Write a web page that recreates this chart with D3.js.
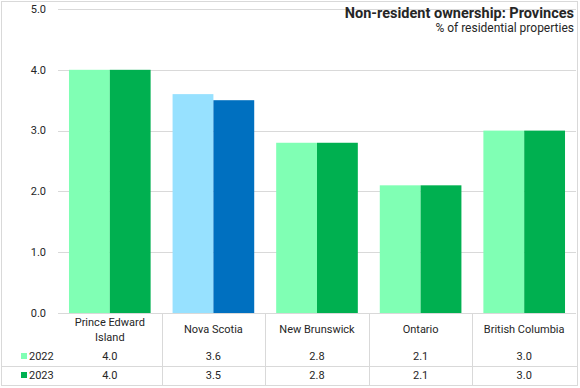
<html>
<head>
<script src="https://cdnjs.cloudflare.com/ajax/libs/d3/7.8.5/d3.min.js"></script>
<style>
	body { margin: 0; background: #fff; }
	text { font-family: Roboto, "Open Sans", sans-serif; fill: #262626; }
</style>
</head>
<body>
<svg width="580" height="388"></svg>
<script>
	var provinces = ["Prince Edward Island", "Nova Scotia", "New Brunswick", "Ontario", "British Columbia"];
	var years = ["2022", "2023"];
	var values2022 = [4.0, 3.6, 2.8, 2.1, 3.0];
	var values2023 = [4.0, 3.5, 2.8, 2.1, 3.0];
	var yTicks = [0, 1, 2, 3, 4, 5];
	var colors = {"2022": "#80FFB4", "2023": "#00B050"};
	var highlight = {"2022": "#97E1FF", "2023": "#0070C0"};
	var highlighted = "Nova Scotia";

	var svg = d3.select("svg");
	var plotLeft = 58, plotRight = 576, plotTop = 9, plotBottom = 313;

	// outer border
	svg.append("rect").attr("x", 1.5).attr("y", 1.5).attr("width", 576).attr("height", 384)
		.attr("fill", "none").attr("stroke", "#d9d9d9");

	var x = d3.scaleBand().domain(provinces).range([plotLeft, plotRight]).paddingInner(0.212).paddingOuter(0.106);
	var xs = d3.scaleBand().domain(years).range([0, x.bandwidth()]);
	var y = d3.scaleLinear().domain([0, 5]).range([plotBottom, plotTop]);

	// gridlines
	svg.append("g").selectAll("line").data(yTicks).enter().append("line")
		.attr("x1", plotLeft).attr("x2", plotRight)
		.attr("y1", function(d){ return Math.round(y(d)) + 0.5; })
		.attr("y2", function(d){ return Math.round(y(d)) + 0.5; })
		.attr("stroke", "#d9d9d9");

	// y labels
	svg.append("g").selectAll("text").data(yTicks).enter().append("text")
		.attr("x", 46).attr("y", function(d){ return y(d); })
		.attr("dy", "0.35em").attr("text-anchor", "end").attr("font-size", 11)
		.text(function(d){ return d.toFixed(1); });

	var rows = provinces.map(function(p, i){
		return {name: p, vals: [{year: "2022", v: values2022[i]}, {year: "2023", v: values2023[i]}]};
	});

	var groups = svg.append("g").selectAll("g").data(rows).enter().append("g")
		.attr("transform", function(d){ return "translate(" + x(d.name) + ",0)"; });
	groups.selectAll("rect").data(function(d){ return d.vals.map(function(v){ return {name: d.name, year: v.year, v: v.v}; }); })
		.enter().append("rect")
		.attr("x", function(d){ return xs(d.year); })
		.attr("width", xs.bandwidth())
		.attr("y", function(d){ return y(d.v); })
		.attr("height", function(d){ return y(0) - y(d.v); })
		.attr("fill", function(d){ return d.name === highlighted ? highlight[d.year] : colors[d.year]; });

	// data table
	var step = x.step();
	var table = svg.append("g");
	var tableBottom = 386, rowLine = 366;
	provinces.forEach(function(p, i){
		var xl = plotLeft + step * (i + 1);
		if (i < provinces.length - 1) {
			table.append("line").attr("x1", Math.round(xl) + 0.5).attr("x2", Math.round(xl) + 0.5)
				.attr("y1", plotBottom).attr("y2", tableBottom).attr("stroke", "#d9d9d9");
		}
	});
	table.append("line").attr("x1", 2).attr("x2", plotRight + 1).attr("y1", rowLine + 0.5).attr("y2", rowLine + 0.5)
		.attr("stroke", "#d9d9d9");

	// category labels
	var labelLines = {"Prince Edward Island": ["Prince Edward", "Island"]};
	provinces.forEach(function(p){
		var cx = x(p) + x.bandwidth() / 2;
		var lines = labelLines[p] || [p];
		var t = table.append("text").attr("x", cx).attr("text-anchor", "middle").attr("font-size", 11);
		if (lines.length === 1) {
			t.attr("y", 329).attr("dy", "0.35em").text(p);
		} else {
			lines.forEach(function(l, j){
				t.append("tspan").attr("x", cx).attr("y", 322 + j * 15).attr("dy", "0.35em").text(l);
			});
		}
	});

	// values
	var rowY = {"2022": 356, "2023": 375};
	[values2022, values2023].forEach(function(vals, k){
		var yr = years[k];
		provinces.forEach(function(p, i){
			table.append("text").attr("x", x(p) + x.bandwidth() / 2).attr("y", rowY[yr]).attr("dy", "0.35em")
				.attr("text-anchor", "middle").attr("font-size", 11).text(vals[i].toFixed(1));
		});
		table.append("rect").attr("x", 21).attr("y", rowY[yr] - 3).attr("width", 6).attr("height", 6)
			.attr("fill", colors[yr]);
		table.append("text").attr("x", 29).attr("y", rowY[yr]).attr("dy", "0.35em")
			.attr("font-size", 11).text(yr);
	});

	// title
	svg.append("text").attr("x", 574).attr("y", 18).attr("text-anchor", "end")
		.attr("font-size", 14.5).attr("font-weight", "bold").attr("fill", "#000").text("Non-resident ownership: Provinces");
	svg.append("text").attr("x", 574).attr("y", 32).attr("text-anchor", "end")
		.attr("font-size", 12).text("% of residential properties");
</script>
</body>
</html>
